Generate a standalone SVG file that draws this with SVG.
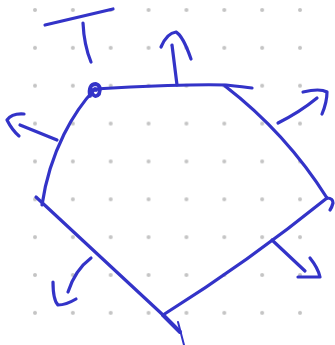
<svg xmlns="http://www.w3.org/2000/svg" width="335" height="345" viewBox="0 0 335 345">
<defs>
<pattern id="dots" patternUnits="userSpaceOnUse" x="16.07" y="-8.93" width="37.86" height="37.86">
<circle cx="18.93" cy="18.93" r="2" fill="#c4c4c4"/>
</pattern>
<style>
.ink{fill:none;stroke:#3333c8;stroke-width:3.2;stroke-linecap:round;stroke-linejoin:round}
</style>
</defs>
<rect width="335" height="345" fill="#ffffff"/>
<rect width="335" height="345" fill="url(#dots)"/>
<g id="pentagon" class="ink">
<path d="M95,89 C140,86 200,84 226,85 Q245,87 252,88"/>
<path d="M225,86 Q286,133 327,198"/>
<path d="M327,198 Q333,198 333,203 Q332,207 330,210"/>
<path d="M327,198 Q248.5,261.5 163,315"/>
<path d="M36,197 L163,315"/>
<path d="M163,315 L180,332" stroke-width="4"/>
<path d="M178,322 L184,345" stroke-width="2"/>
<path d="M95,89 C75,110 50,150 42,205"/>
<path d="M90,96 Q88,84 96,84 Q102,86 99,94 Q95,99 91,92 Q94,88 96,90" stroke-width="3.8"/>
</g>
<g id="normals" class="ink">
<path d="M45,25 L113,9"/>
<path d="M83,23 Q84,45 91,62"/>
<path d="M177,85 L172,45"/>
<path d="M161,47 Q167,33 176,32 Q183,36 191,59"/>
<path d="M278,123 Q300,112 317,98"/>
<path d="M303,92 Q320,88 327,92 Q327,102 322,114"/>
<path d="M272,240 L305,271"/>
<path d="M310,258 Q318,268 320,277 L298,277"/>
<path d="M91,258 Q75,270 68,292"/>
<path d="M53,282 Q53,300 58,305 Q66,305 76,299"/>
<path d="M20,125 L57,140"/>
<path d="M24,114 Q12,113 7,120 Q12,130 19,136"/>
</g>
</svg>
